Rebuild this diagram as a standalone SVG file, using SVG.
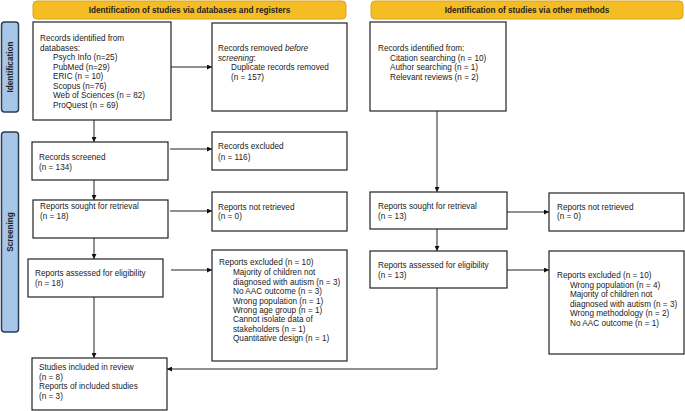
<svg xmlns="http://www.w3.org/2000/svg" width="685" height="411" viewBox="0 0 685 411">
<defs>
<marker id="ah" viewBox="0 0 10 10" refX="10" refY="5" markerWidth="5" markerHeight="5" orient="auto" markerUnits="userSpaceOnUse">
<path d="M0,0 L10,5 L0,10 z" fill="#111"/>
</marker>
</defs>
<style>
.box{fill:#fff;stroke:#222;stroke-width:1.2}
.hdr{fill:#f5bd23;stroke:#d9a21a;stroke-width:1}
.side{fill:#a8c6e8;stroke:#2c3e55;stroke-width:1.5}
.t{font-family:"Liberation Sans",Arial,sans-serif;font-size:8.2px;fill:#222}
.h{font-family:"Liberation Sans",Arial,sans-serif;font-size:8.2px;font-weight:bold;fill:#222}
.c{fill:none;stroke:#222;stroke-width:1}
</style>
<rect width="685" height="411" fill="#fff"/>
<g id="header-left"><rect class="hdr" x="33" y="1" width="313" height="18" rx="4"/><text class="h" x="189.5" y="12.8" text-anchor="middle">Identification of studies via databases and registers</text></g>
<g id="header-right"><rect class="hdr" x="371" y="1" width="312" height="18" rx="4"/><text class="h" x="527" y="12.8" text-anchor="middle">Identification of studies via other methods</text></g>
<g id="side-identification"><rect class="side" x="1.5" y="22" width="17" height="90" rx="3"/><text class="h" transform="translate(12.8,67) rotate(-90)" text-anchor="middle">Identification</text></g>
<g id="side-screening"><rect class="side" x="1.5" y="132" width="17" height="200" rx="3"/><text class="h" transform="translate(12.8,232) rotate(-90)" text-anchor="middle">Screening</text></g>

<g id="connectors">
<line class="c" x1="171" y1="67" x2="212" y2="67" marker-end="url(#ah)"/>
<line class="c" x1="94" y1="120" x2="94" y2="142" marker-end="url(#ah)"/>
<line class="c" x1="170" y1="149" x2="212" y2="149" marker-end="url(#ah)"/>
<line class="c" x1="94" y1="180" x2="94" y2="200" marker-end="url(#ah)"/>
<line class="c" x1="170" y1="211" x2="212" y2="211" marker-end="url(#ah)"/>
<line class="c" x1="94" y1="238" x2="94" y2="259" marker-end="url(#ah)"/>
<line class="c" x1="171" y1="270" x2="212" y2="270" marker-end="url(#ah)"/>
<line class="c" x1="94" y1="297" x2="94" y2="358" marker-end="url(#ah)"/>
<line class="c" x1="437" y1="111" x2="437" y2="192" marker-end="url(#ah)"/>
<line class="c" x1="507" y1="212" x2="549" y2="212" marker-end="url(#ah)"/>
<line class="c" x1="437" y1="229" x2="437" y2="251" marker-end="url(#ah)"/>
<line class="c" x1="507" y1="270" x2="549" y2="270" marker-end="url(#ah)"/>
<polyline class="c" points="437,288 437,369 167,369" marker-end="url(#ah)"/>
</g>

<g id="n-records-identified"><rect class="box" x="33" y="22" width="138" height="98"/>
<text class="t" x="40" y="41">Records identified from</text>
<text class="t" x="40" y="50.5">databases:</text>
<text class="t" x="53" y="60">Psych Info (n=25)</text>
<text class="t" x="53" y="69.5">PubMed (n=29)</text>
<text class="t" x="53" y="79">ERIC (n = 10)</text>
<text class="t" x="53" y="88.5">Scopus (n=76)</text>
<text class="t" x="53" y="98">Web of Sciences (n = 82)</text>
<text class="t" x="53" y="107.5">ProQuest (n = 69)</text>
</g>
<g id="n-records-removed"><rect class="box" x="212" y="23" width="135" height="88"/>
<text class="t" x="218" y="51">Records removed <tspan font-style="italic">before</tspan></text>
<text class="t" x="218" y="60.5" font-style="italic">screening<tspan font-style="normal">:</tspan></text>
<text class="t" x="231" y="70">Duplicate records removed</text>
<text class="t" x="231" y="79.5">(n = 157)</text>
</g>
<g id="n-other-records"><rect class="box" x="370" y="22" width="136" height="89"/>
<text class="t" x="378" y="51">Records identified from:</text>
<text class="t" x="390" y="60.5">Citation searching (n = 10)</text>
<text class="t" x="390" y="70">Author searching (n = 1)</text>
<text class="t" x="390" y="79.5">Relevant reviews (n = 2)</text>
</g>
<g id="n-records-screened"><rect class="box" x="32" y="142" width="136" height="38"/>
<text class="t" x="39" y="160">Records screened</text>
<text class="t" x="39" y="170">(n = 134)</text>
</g>
<g id="n-records-excluded"><rect class="box" x="212" y="132" width="135" height="38"/>
<text class="t" x="218" y="149">Records excluded</text>
<text class="t" x="218" y="159.5">(n = 116)</text>
</g>
<g id="n-sought"><rect class="box" x="33" y="200" width="135" height="38"/>
<text class="t" x="40" y="209">Reports sought for retrieval</text>
<text class="t" x="40" y="218.5">(n = 18)</text>
</g>
<g id="n-not-retrieved"><rect class="box" x="212" y="192" width="135" height="39"/>
<text class="t" x="218" y="209.5">Reports not retrieved</text>
<text class="t" x="218" y="219">(n = 0)</text>
</g>
<g id="n-assessed"><rect class="box" x="28" y="259" width="135" height="38"/>
<text class="t" x="35" y="276">Reports assessed for eligibility</text>
<text class="t" x="35" y="285.5">(n = 18)</text>
</g>
<g id="n-reports-excluded"><rect class="box" x="212" y="250" width="135" height="111"/>
<text class="t" x="219" y="265">Reports excluded (n = 10)</text>
<text class="t" x="233" y="274.5">Majority of children not</text>
<text class="t" x="233" y="284.5">diagnosed with autism (n = 3)</text>
<text class="t" x="233" y="294">No AAC outcome (n = 3)</text>
<text class="t" x="233" y="303.5">Wrong population (n = 1)</text>
<text class="t" x="233" y="313">Wrong age group (n = 1)</text>
<text class="t" x="233" y="322">Cannot isolate data of</text>
<text class="t" x="233" y="331.5">stakeholders (n = 1)</text>
<text class="t" x="233" y="341">Quantitative design (n = 1)</text>
</g>
<g id="n-included"><rect class="box" x="32" y="358" width="135" height="52"/>
<text class="t" x="39" y="370">Studies included in review</text>
<text class="t" x="39" y="379.5">(n = 8)</text>
<text class="t" x="39" y="389">Reports of included studies</text>
<text class="t" x="39" y="398.5">(n = 3)</text>
</g>
<g id="n-other-sought"><rect class="box" x="370" y="192" width="137" height="37"/>
<text class="t" x="378" y="209">Reports sought for retrieval</text>
<text class="t" x="378" y="218.5">(n = 13)</text>
</g>
<g id="n-other-not-retrieved"><rect class="box" x="549" y="193" width="135" height="38"/>
<text class="t" x="557" y="209.5">Reports not retrieved</text>
<text class="t" x="557" y="219">(n = 0)</text>
</g>
<g id="n-other-assessed"><rect class="box" x="370" y="251" width="137" height="37"/>
<text class="t" x="378" y="268">Reports assessed for eligibility</text>
<text class="t" x="378" y="277.5">(n = 13)</text>
</g>
<g id="n-other-excluded"><rect class="box" x="549" y="251" width="135" height="103"/>
<text class="t" x="557" y="278">Reports excluded (n = 10)</text>
<text class="t" x="570" y="287.5">Wrong population (n = 4)</text>
<text class="t" x="570" y="297">Majority of children not</text>
<text class="t" x="570" y="306.5">diagnosed with autism (n = 3)</text>
<text class="t" x="570" y="316">Wrong methodology (n = 2)</text>
<text class="t" x="570" y="325.5">No AAC outcome (n = 1)</text>
</g>
</svg>
